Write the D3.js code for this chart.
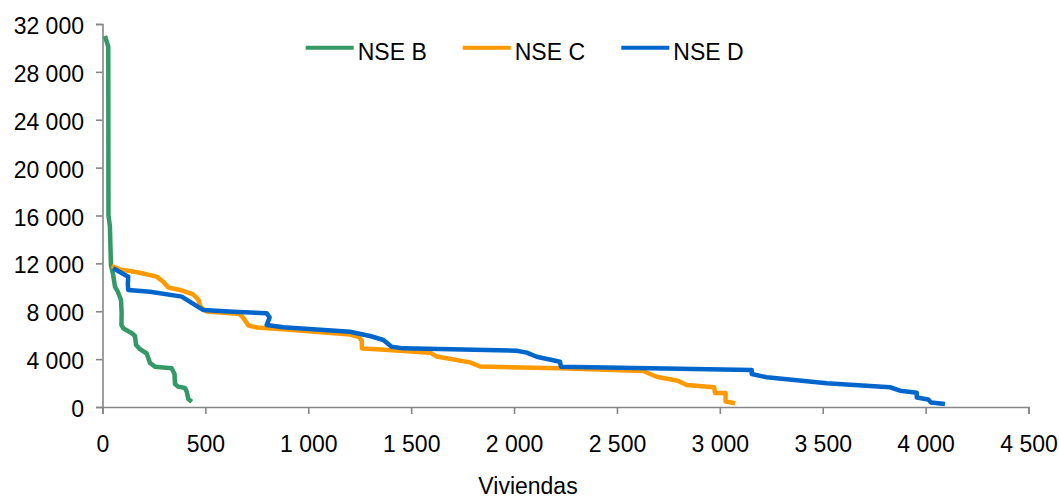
<!DOCTYPE html>
<html>
<head>
<meta charset="utf-8">
<script src="https://cdn.jsdelivr.net/npm/d3@7"></script>
<style>
  html, body { margin: 0; padding: 0; background: #fff; }
  svg { display: block; font-family: "Liberation Sans", Arial, sans-serif; }
</style>
</head>
<body>
<svg id="chart" width="1059" height="499"></svg>
<script>
// ---- data (x = Viviendas, y = value) ----
const seriesNames = ["NSE B", "NSE C", "NSE D"];
const seriesColors = ["#339966", "#FF9900", "#0066CC"];

const nseB = [
  [12,31000],[28,30100],[29,16000],[36,15100],[41,11860],[51,11110],[61,10030],
  [75,9610],[90,8940],[93,7850],[92,6850],[102,6560],[143,6160],[158,5930],
  [163,5180],[182,4840],[215,4470],[231,3680],[255,3370],[336,3230],[350,2760],
  [352,1920],[368,1700],[401,1590],[410,1250],[417,670],[434,440]
];
const nseC = [
  [44,11780],[85,11500],[182,11220],[263,10890],[295,10470],[320,9980],[377,9780],
  [441,9400],[466,8980],[476,8380],[506,7980],[668,7770],[688,7350],[709,6810],
  [751,6640],[877,6490],[1203,6060],[1247,5850],[1260,5510],[1261,4890],[1333,4820],
  [1592,4540],[1624,4220],[1786,3730],[1835,3380],[2223,3230],[2627,3010],[2693,2530],
  [2795,2200],[2839,1840],[2972,1650],[2977,1170],[3028,1170],[3028,460],[3074,310]
];
const nseD = [
  [52,11590],[125,10890],[123,10280],[125,9780],[231,9630],[385,9220],[441,8610],
  [490,8100],[636,7960],[798,7830],[812,7490],[798,6850],[879,6660],[1203,6290],
  [1300,5930],[1365,5600],[1405,5040],[1462,4900],[2013,4700],[2062,4540],[2110,4200],
  [2223,3780],[2228,3370],[2661,3230],[3155,3090],[3155,2760],[3228,2480],[3520,1980],
  [3827,1650],[3876,1360],[3957,1190],[3957,790],[4013,630],[4026,380],[4094,250]
];
const xTicks = [0,500,1000,1500,2000,2500,3000,3500,4000,4500];
const yTicks = [0,4000,8000,12000,16000,20000,24000,28000,32000];
const xTitle = "Viviendas";

// ---- layout ----
const svg = d3.select("#chart");
const mLeft = 102.5, mRight = 1028.5, mTop = 24, mBottom = 407;

const x = d3.scaleLinear().domain([0, 4500]).range([mLeft, mRight]);
const y = d3.scaleLinear().domain([0, 32000]).range([mBottom, mTop]);

const fmt = v => d3.format(",")(v).replace(/,/g, "\u00a0");
const axisColor = "#868686";
const fontSize = 23;

// Y axis
const gy = svg.append("g").attr("transform", `translate(${mLeft},0)`)
  .call(d3.axisLeft(y).tickValues(yTicks).tickSize(6.5).tickPadding(12).tickFormat(fmt));
gy.select(".domain").attr("stroke", axisColor).attr("stroke-width", 1.6);
gy.selectAll(".tick line").attr("stroke", axisColor).attr("stroke-width", 1.6);
gy.selectAll(".tick text").attr("fill", "#000").attr("font-size", fontSize)
  .attr("font-family", "Liberation Sans, Arial, sans-serif")
  .attr("dy", "9.5px");

// X axis
const gx = svg.append("g").attr("transform", `translate(0,${mBottom})`)
  .call(d3.axisBottom(x).tickValues(xTicks).tickSize(7).tickFormat(fmt));
gx.select(".domain").attr("stroke", axisColor).attr("stroke-width", 1.6);
gx.selectAll(".tick line").attr("stroke", axisColor).attr("stroke-width", 1.6);
gx.selectAll(".tick text").attr("fill", "#000").attr("font-size", fontSize)
  .attr("font-family", "Liberation Sans, Arial, sans-serif")
  .attr("y", 45).attr("dy", 0);

// X title
svg.append("text").attr("x", 528).attr("y", 494).attr("text-anchor", "middle")
  .attr("font-size", fontSize).attr("fill", "#000").text(xTitle);

// Lines
const line = d3.line().x(d => x(d[0])).y(d => y(d[1]));
const allSeries = [nseB, nseC, nseD];
[0, 1, 2].forEach(i => {
  svg.append("path").datum(allSeries[i])
    .attr("fill", "none").attr("stroke", seriesColors[i])
    .attr("stroke-width", 4.5).attr("stroke-linejoin", "round").attr("stroke-linecap", "butt")
    .attr("d", line);
});

// Legend
const legendX = [305.7, 462.7, 621.3];
seriesNames.forEach((name, i) => {
  const g = svg.append("g").attr("transform", `translate(${legendX[i]},47.7)`);
  g.append("line").attr("x1", 0).attr("x2", 48).attr("y1", 0).attr("y2", 0)
    .attr("stroke", seriesColors[i]).attr("stroke-width", 4);
  g.append("text").attr("x", 52).attr("y", 12.3).attr("font-size", fontSize)
    .attr("fill", "#000").text(name);
});
</script>
</body>
</html>
